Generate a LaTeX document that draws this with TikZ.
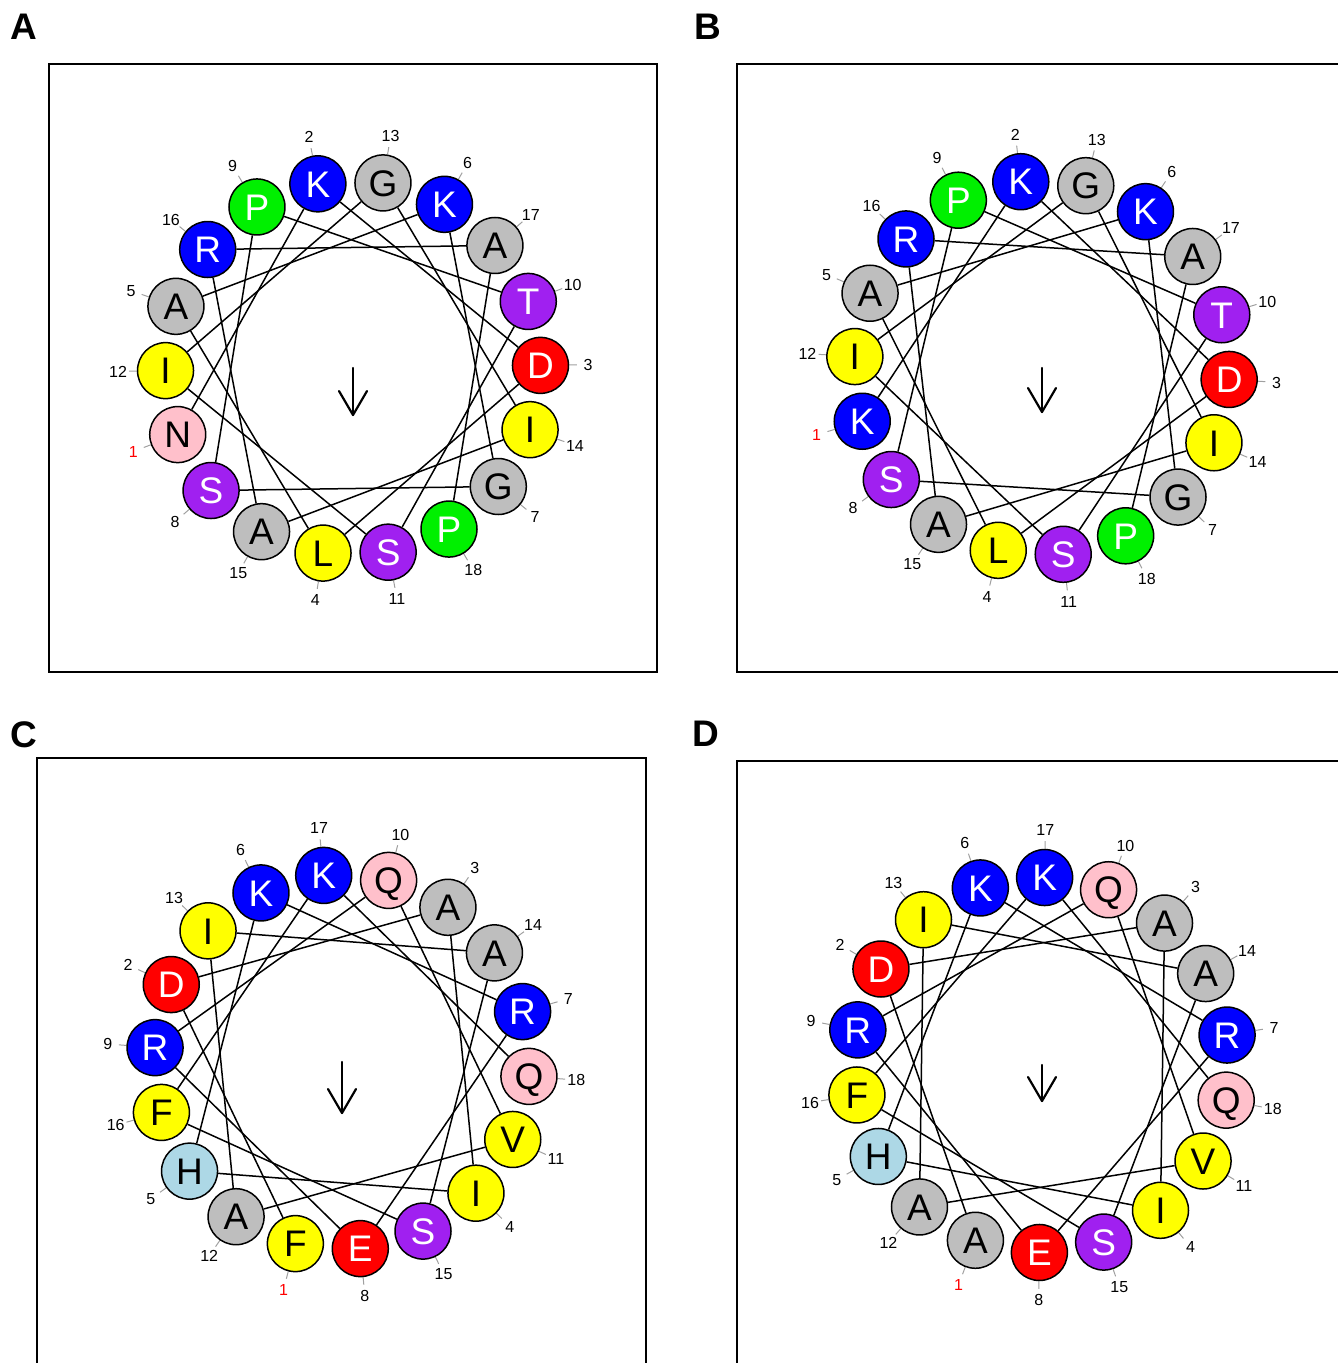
\documentclass[tikz,border=0pt]{standalone}
\usepackage{fontspec}
\setmainfont{Liberation Sans}
\usetikzlibrary{calc}
\pgfdeclarelayer{bg}
\pgfsetlayers{bg,main}
\definecolor{wblue}{RGB}{0,0,255}
\definecolor{wgray}{RGB}{190,190,190}
\definecolor{wpurple}{RGB}{160,32,240}
\definecolor{wred}{RGB}{255,0,0}
\definecolor{wyellow}{RGB}{255,255,0}
\definecolor{wgreen}{RGB}{0,240,0}
\definecolor{wpink}{RGB}{255,192,203}
\definecolor{wlblue}{RGB}{173,216,230}
\definecolor{wtick}{RGB}{160,160,160}
\tikzset{
  res/.style={circle, draw=black, line width=1.5pt, minimum size=56pt, inner sep=0pt,
    font=\fontsize{37}{37}\selectfont, text height=26.5pt, text depth=0pt},
  aaK/.style={fill=wblue, text=white},
  aaR/.style={fill=wblue, text=white},
  aaG/.style={fill=wgray, text=black},
  aaA/.style={fill=wgray, text=black},
  aaT/.style={fill=wpurple, text=white},
  aaS/.style={fill=wpurple, text=white},
  aaD/.style={fill=wred, text=white},
  aaE/.style={fill=wred, text=white},
  aaI/.style={fill=wyellow, text=black},
  aaL/.style={fill=wyellow, text=black},
  aaF/.style={fill=wyellow, text=black},
  aaV/.style={fill=wyellow, text=black},
  aaP/.style={fill=wgreen, text=white},
  aaN/.style={fill=wpink, text=black},
  aaQ/.style={fill=wpink, text=black},
  aaH/.style={fill=wlblue, text=black},
  num/.style={circle, minimum size=22pt, inner sep=0pt,
    font=\fontsize{16}{16}\selectfont, text height=11.5pt, text depth=0pt},
  numcol/.code={\ifnum#1=1 \pgfkeysalso{text=red}\else\pgfkeysalso{text=black}\fi},
  tick/.style={draw=wtick, line width=1pt},
  conn/.style={draw=black, line width=1.5pt},
  frame/.style={draw=black, line width=1.8pt},
  plabel/.style={font=\fontsize{37}{37}\selectfont\bfseries, inner sep=0pt},
  moment/.style={draw=black, line width=2.2pt, line cap=round, line join=round}
}
% #1 prefix, #2 cx, #3 cy, #4 angle of residue 1, #5 arrow length, #6 residues
\newcommand\hwheel[6]{%
  \foreach \i/\aa in {#6}{%
    \node[res, aa\aa] (#1\i) at ($(#2,#3)+({#4-100*(\i-1)}:187.5pt)$) {\aa};
    \node[num, numcol=\i] (#1n\i) at ($(#2,#3)+({#4-100*(\i-1)}:235pt)$) {\i};
    \begin{pgfonlayer}{bg}\draw[tick] (#1\i) -- (#1n\i);\end{pgfonlayer}
  }
  \foreach \i [evaluate=\i as \j using int(\i+1)] in {1,...,17}{%
    \begin{pgfonlayer}{bg}\draw[conn] (#1\i) -- (#1\j);\end{pgfonlayer}
  }
  \coordinate (#1c) at (#2,#3);
  \coordinate (#1tip) at ($(#2,#3)+(0,#5)$);
  \draw[moment] (#1c) -- (#1tip);
  \draw[moment] ($(#1tip)+(-14,-24)$) -- (#1tip) -- ($(#1tip)+(14,-24)$);
}
\begin{document}
\begin{tikzpicture}[x=1pt, y=-1pt]
\useasboundingbox (0,0) rectangle (1338,1363);
% frames
\draw[frame] (49,64) rectangle (657,672);
\draw[frame] (1350,64) -- (737,64) -- (737,672) -- (1350,672);
\draw[frame] (37,1370) -- (37,758) -- (646,758) -- (646,1370);
\draw[frame] (737,1370) -- (737,761) -- (1350,761);
% panel labels
\node[plabel] (LA) at (24,27) {A};
\node[plabel] (LB) at (708,27) {B};
\node[plabel] (LC) at (24,735) {C};
\node[plabel] (LD) at (706,734) {D};
% wheels
\hwheel{a}{353}{368}{200.8}{47}{1/N,2/K,3/D,4/L,5/A,6/K,7/G,8/S,9/P,10/T,11/S,12/I,13/G,14/I,15/A,16/R,17/A,18/P}
\hwheel{b}{1042}{368}{196.5}{44}{1/K,2/K,3/D,4/L,5/A,6/K,7/G,8/S,9/P,10/T,11/S,12/I,13/G,14/I,15/A,16/R,17/A,18/P}
\hwheel{c}{342}{1062}{255.6}{51}{1/F,2/D,3/A,4/I,5/H,6/K,7/R,8/E,9/R,10/Q,11/V,12/A,13/I,14/A,15/S,16/F,17/K,18/Q}
\hwheel{d}{1042}{1065}{249.2}{36}{1/A,2/D,3/A,4/I,5/H,6/K,7/R,8/E,9/R,10/Q,11/V,12/A,13/I,14/A,15/S,16/F,17/K,18/Q}
\end{tikzpicture}
\end{document}
